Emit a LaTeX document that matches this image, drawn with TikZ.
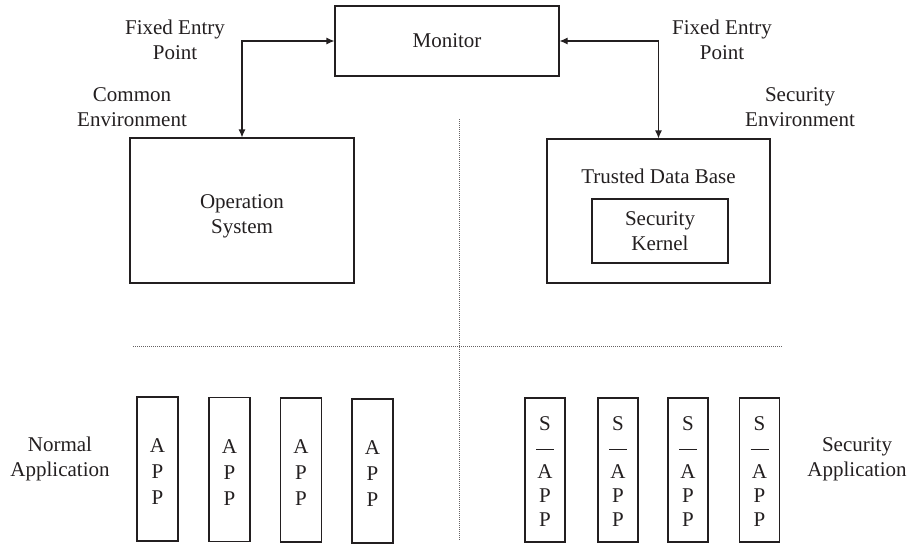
\documentclass[tikz,border=0pt]{standalone}
\usepackage{fontspec}
\setmainfont{Liberation Serif}
\usetikzlibrary{arrows.meta}
\definecolor{ink}{HTML}{231F20}
\begin{document}
\begin{tikzpicture}[x=1pt,y=-1pt,
  every node/.style={text=ink,font=\fontsize{21}{25}\selectfont},
  box/.style={draw=ink,line width=1.1pt,rectangle,inner sep=0pt},
  lbl/.style={align=center,inner sep=0pt},
  appbox/.style={box,minimum width=41pt,minimum height=144pt,align=center,
    font=\fontsize{21}{26}\selectfont},
  sappbox/.style={box,minimum width=40pt,minimum height=144pt,align=center,
    font=\fontsize{21}{24}\selectfont},
  link/.style={draw=ink,line width=1.1pt,{Latex[length=8pt,width=7pt]}-{Latex[length=8pt,width=7pt]}},
  sep/.style={draw=ink!70,line width=1pt,dash pattern=on 1pt off 1pt}]
\useasboundingbox (0,0) rectangle (910,544);

% main boxes
\node[box,minimum width=224pt,minimum height=70pt] (mon) at (447,41) {Monitor};
\node[box,minimum width=224pt,minimum height=145pt,lbl] (os) at (242,210.5) {};
\node[lbl] (ostext) at (242,216) {Operation\\System};
\node[box,minimum width=223pt,minimum height=144pt] (tdb) at (658.5,211) {};
\node[lbl] (tdbtext) at (658.5,176) {Trusted Data Base};
\node[box,minimum width=136pt,minimum height=64pt,lbl] (ker) at (660,231) {Security\\Kernel};

% connectors
\draw[link] (mon.west) -| (os.north);
\draw[link] (mon.east) -| (tdb.north);

% labels
\node[lbl] (fepl) at (175,40) {Fixed Entry\\Point};
\node[lbl] (cenv) at (132,107) {Common\\Environment};
\node[lbl] (fepr) at (722,40) {Fixed Entry\\Point};
\node[lbl] (senv) at (800,107) {Security\\Environment};
\node[lbl] (napp) at (60,459) {Normal\\Application};
\node[lbl] (sapp) at (857,459) {Security\\Application};

% separators
\coordinate (vt) at (459,119);
\coordinate (vb) at (459,541);
\coordinate (hl) at (133,346);
\coordinate (hr) at (782,346);
\draw[sep] (vt) -- (vb);
\draw[sep] (hl) -- (hr);

% normal apps
\node[appbox] (a1) at (157.5,469) {};
\node[appbox] (a2) at (229.5,469.5) {};
\node[appbox] (a3) at (301,470) {};
\node[appbox] (a4) at (372.5,471) {};
\node[lbl,font=\fontsize{21}{26}\selectfont] (t1) at (157.5,472) {A\\P\\P};
\node[lbl,font=\fontsize{21}{26}\selectfont] (t2) at (229.5,472.5) {A\\P\\P};
\node[lbl,font=\fontsize{21}{26}\selectfont] (t3) at (301,473) {A\\P\\P};
\node[lbl,font=\fontsize{21}{26}\selectfont] (t4) at (372.5,474) {A\\P\\P};

% security apps
\newcommand{\sapptext}{S\\\rule[5pt]{18pt}{0.8pt}\\A\\P\\P}
\node[sappbox] (s1) at (545,470) {};
\node[sappbox] (s2) at (618,470) {};
\node[sappbox] (s3) at (688,470) {};
\node[sappbox] (s4) at (759.5,470) {};
\node[lbl,font=\fontsize{21}{24}\selectfont] (u1) at (545,472) {\sapptext};
\node[lbl,font=\fontsize{21}{24}\selectfont] (u2) at (618,472) {\sapptext};
\node[lbl,font=\fontsize{21}{24}\selectfont] (u3) at (688,472) {\sapptext};
\node[lbl,font=\fontsize{21}{24}\selectfont] (u4) at (759.5,472) {\sapptext};
\end{tikzpicture}
\end{document}
